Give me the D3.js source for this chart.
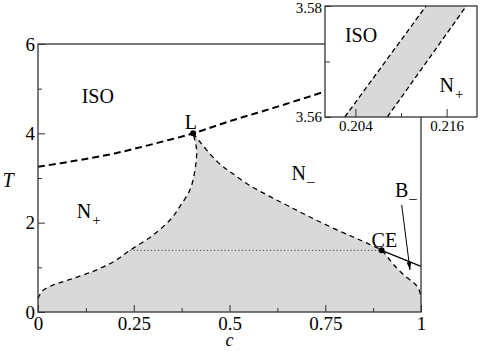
<!DOCTYPE html>
<html>
<head>
<meta charset="utf-8">
<script src="https://cdn.jsdelivr.net/npm/d3@7"></script>
<style>
body { margin: 0; background: #fff; }
svg { display: block; font-family: Liberation Serif, Noto Serif, DejaVu Serif, Times, serif; }
</style>
</head>
<body>
<svg id="chart" width="480" height="351"></svg>
<script>
// ISO / nematic transition line (c, T)
const isoC = [0, 0.1, 0.2, 0.3, 0.405, 0.5, 0.6, 0.7, 0.8];
const isoT = [3.25, 3.39, 3.55, 3.76, 4.0, 4.27, 4.53, 4.8, 5.08];

// N+ side of the coexistence region, bottom -> L
const plusC = [0, 0.01, 0.03, 0.08, 0.144, 0.2, 0.24, 0.3, 0.349, 0.371, 0.397, 0.41, 0.414, 0.405];
const plusT = [0.3, 0.46, 0.57, 0.72, 0.91, 1.14, 1.38, 1.72, 2.1, 2.37, 2.74, 3.19, 3.64, 4.0];

// N- side of the coexistence region, L -> c = 1
const minusC = [0.405, 0.42, 0.44, 0.47, 0.5, 0.55, 0.6, 0.65, 0.7, 0.76, 0.82, 0.867, 0.897, 0.92, 0.937, 0.955, 0.971, 0.985, 0.995, 1.0];
const minusT = [4.0, 3.84, 3.63, 3.35, 3.15, 2.85, 2.61, 2.39, 2.17, 1.92, 1.69, 1.51, 1.38, 1.15, 0.98, 0.83, 0.72, 0.62, 0.5, 0.3];

// tie line at the critical end point and the B- line
const tieC = [0.24, 0.897];
const tieT = [1.38, 1.38];
const bLineC = [0.897, 1.0];
const bLineT = [1.38, 1.02];
const pointC = [0.405, 0.897]; // L, CE
const pointT = [4.0, 1.38];

// inset: the narrow ISO-N+ band
const insetT = [3.56, 3.58];
const insetLeftC = [0.2026, 0.2133];
const insetRightC = [0.2082, 0.2186];

// ticks
const xTicks = [0, 0.25, 0.5, 0.75, 1];
const xTickLabels = ["0", "0.25", "0.5", "0.75", "1"];
const xMinor = [0.125, 0.375, 0.625, 0.875];
const yTicks = [0, 2, 4, 6];
const yMinor = [1, 3, 5];
const insetXTicks = [0.204, 0.216];
const insetXMinor = [0.21];
const insetYTicks = [3.56, 3.58];
const insetYMinor = [3.57];

const svg = d3.select("#chart");
const font = "Liberation Serif, Noto Serif, DejaVu Serif, Times, serif";

const x = d3.scaleLinear().domain([0, 1]).range([38, 421]);
const y = d3.scaleLinear().domain([0, 6]).range([312, 44]);

const zip = (cs, ts) => cs.map((c, i) => [c, ts[i]]);
const curve = d3.line().x(d => x(d[0])).y(d => y(d[1])).curve(d3.curveCatmullRom.alpha(0.5));
const straight = d3.line().x(d => x(d[0])).y(d => y(d[1]));

const plusPts = zip(plusC, plusT);
const minusPts = zip(minusC, minusT);

// shaded coexistence region
const fillD = "M" + x(0) + "," + y(0) + "L" + curve(plusPts).slice(1) +
  curve(minusPts).replace(/^M/, "L") +
  "L" + x(1) + "," + y(0) + "Z";
svg.append("path").attr("d", fillD).attr("fill", "#d9d9d9").attr("stroke", "none");

// tie line (dotted)
svg.append("path").attr("d", straight(zip(tieC, tieT)))
  .attr("fill", "none").attr("stroke", "#444").attr("stroke-width", 1)
  .attr("stroke-dasharray", "1.2,2.3");

// boundaries
svg.append("path").attr("d", curve(plusPts))
  .attr("fill", "none").attr("stroke", "#000").attr("stroke-width", 1.3)
  .attr("stroke-dasharray", "5,4");
svg.append("path").attr("d", curve(minusPts))
  .attr("fill", "none").attr("stroke", "#000").attr("stroke-width", 1.3)
  .attr("stroke-dasharray", "5,4");
svg.append("path").attr("d", curve(zip(isoC, isoT)))
  .attr("fill", "none").attr("stroke", "#000").attr("stroke-width", 2)
  .attr("stroke-dasharray", "7,4");
svg.append("path").attr("d", straight(zip(bLineC, bLineT)))
  .attr("fill", "none").attr("stroke", "#000").attr("stroke-width", 1.3);

svg.selectAll(".pt").data(zip(pointC, pointT)).enter().append("circle")
  .attr("class", "pt")
  .attr("cx", d => x(d[0])).attr("cy", d => y(d[1])).attr("r", 3)
  .attr("fill", "#000");

// arrow to the B- line
svg.append("defs").append("marker")
  .attr("id", "head").attr("viewBox", "0 0 10 10").attr("refX", 10).attr("refY", 5)
  .attr("markerWidth", 8).attr("markerHeight", 8).attr("orient", "auto")
  .append("path").attr("d", "M0,2L10,5L0,8Z").attr("fill", "#000");
svg.append("line")
  .attr("x1", x(0.9496)).attr("y1", y(2.4))
  .attr("x2", x(0.9713)).attr("y2", y(0.94))
  .attr("stroke", "#000").attr("stroke-width", 1)
  .attr("marker-end", "url(#head)");

// axes
function styleAxis(g) {
  g.attr("font-family", font).attr("font-size", 19);
  g.selectAll("line").attr("stroke", "#333");
  g.selectAll("text").attr("fill", "#000");
  g.select(".domain").remove();
}
svg.append("g").attr("transform", `translate(0,${y(0)})`)
  .call(d3.axisBottom(x).tickValues(xTicks).tickFormat((d, i) => xTickLabels[i])
    .tickSizeInner(-7).tickSizeOuter(0).tickPadding(5))
  .call(styleAxis);
svg.append("g").attr("transform", `translate(0,${y(0)})`)
  .call(d3.axisBottom(x).tickValues(xMinor).tickFormat("").tickSizeInner(-4).tickSizeOuter(0))
  .call(styleAxis);
svg.append("g").attr("transform", `translate(${x(0)},0)`)
  .call(d3.axisLeft(y).tickValues(yTicks).tickFormat(d3.format("d"))
    .tickSizeInner(-7).tickSizeOuter(0).tickPadding(3))
  .call(styleAxis);
svg.append("g").attr("transform", `translate(${x(0)},0)`)
  .call(d3.axisLeft(y).tickValues(yMinor).tickFormat("").tickSizeInner(-4).tickSizeOuter(0))
  .call(styleAxis);

svg.append("rect")
  .attr("x", x(0)).attr("y", y(6)).attr("width", x(1) - x(0)).attr("height", y(0) - y(6))
  .attr("fill", "none").attr("stroke", "#333").attr("stroke-width", 1.3);

// labels
function label(px, py, main, sub, size, subDy) {
  const t = svg.append("text").attr("x", px).attr("y", py)
    .attr("font-family", font).attr("font-size", size).attr("fill", "#000").text(main);
  if (sub) t.append("tspan").attr("font-size", 15).attr("dx", 1).attr("dy", subDy).text(sub);
  return t;
}
label(x(0.114), y(4.69), "ISO", null, 20);
label(x(0.399), y(4.09), "L", null, 20).attr("text-anchor", "middle");
label(x(0.101), y(2.1), "N", "+", 20, 7);
label(x(0.662), y(2.96), "N", "\u2013", 20, 6);
label(x(0.871), y(1.46), "CE", null, 20);
label(x(0.932), y(2.58), "B", "\u2013", 20, 6);

svg.append("text").attr("x", 8).attr("y", 187).attr("text-anchor", "middle")
  .attr("font-family", font).attr("font-size", 20).attr("font-style", "italic").text("T");
svg.append("text").attr("x", (x(0) + x(1)) / 2).attr("y", 346).attr("text-anchor", "middle")
  .attr("font-family", font).attr("font-size", 18).attr("font-style", "italic").text("c");

// inset
const xi = d3.scaleLinear().domain([0.2, 0.22]).range([325, 477]);
const yi = d3.scaleLinear().domain([3.56, 3.58]).range([117, 6]);
const insetLine = d3.line().x(d => xi(d[0])).y(d => yi(d[1]));
const inset = svg.append("g");

inset.append("rect").attr("x", xi(0.2)).attr("y", yi(3.58))
  .attr("width", xi(0.22) - xi(0.2)).attr("height", yi(3.56) - yi(3.58))
  .attr("fill", "#fff");
const bandPts = zip(insetLeftC, insetT).concat(zip(insetRightC, insetT).reverse());
inset.append("path").attr("d", insetLine(bandPts) + "Z").attr("fill", "#d9d9d9");
[insetLeftC, insetRightC].forEach(cs => {
  inset.append("path").attr("d", insetLine(zip(cs, insetT)))
    .attr("fill", "none").attr("stroke", "#000").attr("stroke-width", 1.3)
    .attr("stroke-dasharray", "5,3");
});

function styleInset(g) {
  styleAxis(g);
  g.attr("font-size", 15);
}
inset.append("g").attr("transform", `translate(0,${yi(3.56)})`)
  .call(d3.axisBottom(xi).tickValues(insetXTicks).tickFormat(d3.format(".3f"))
    .tickSizeInner(-8).tickSizeOuter(0).tickPadding(3))
  .call(styleInset);
inset.append("g").attr("transform", `translate(0,${yi(3.56)})`)
  .call(d3.axisBottom(xi).tickValues(insetXMinor).tickFormat("").tickSizeInner(-4).tickSizeOuter(0))
  .call(styleInset);
const iy = inset.append("g").attr("transform", `translate(${xi(0.2)},0)`)
  .call(d3.axisLeft(yi).tickValues(insetYTicks).tickFormat(d3.format(".2f"))
    .tickSizeInner(-6).tickSizeOuter(0).tickPadding(3))
  .call(styleInset);
// keep the top inset label inside the page
iy.selectAll("text").filter(d => d === 3.58).attr("dy", "0.45em");
inset.append("g").attr("transform", `translate(${xi(0.2)},0)`)
  .call(d3.axisLeft(yi).tickValues(insetYMinor).tickFormat("").tickSizeInner(-5).tickSizeOuter(0))
  .call(styleInset);
inset.append("rect").attr("x", xi(0.2)).attr("y", yi(3.58))
  .attr("width", xi(0.22) - xi(0.2)).attr("height", yi(3.56) - yi(3.58))
  .attr("fill", "none").attr("stroke", "#333").attr("stroke-width", 1.3);

inset.append("text").attr("x", xi(0.20262)).attr("y", yi(3.5735))
  .attr("font-family", font).attr("font-size", 20).text("ISO");
const np = inset.append("text").attr("x", xi(0.21507)).attr("y", yi(3.5645))
  .attr("font-family", font).attr("font-size", 20).text("N");
np.append("tspan").attr("font-size", 15).attr("dx", 1).attr("dy", 7).text("+");
</script>
</body>
</html>
